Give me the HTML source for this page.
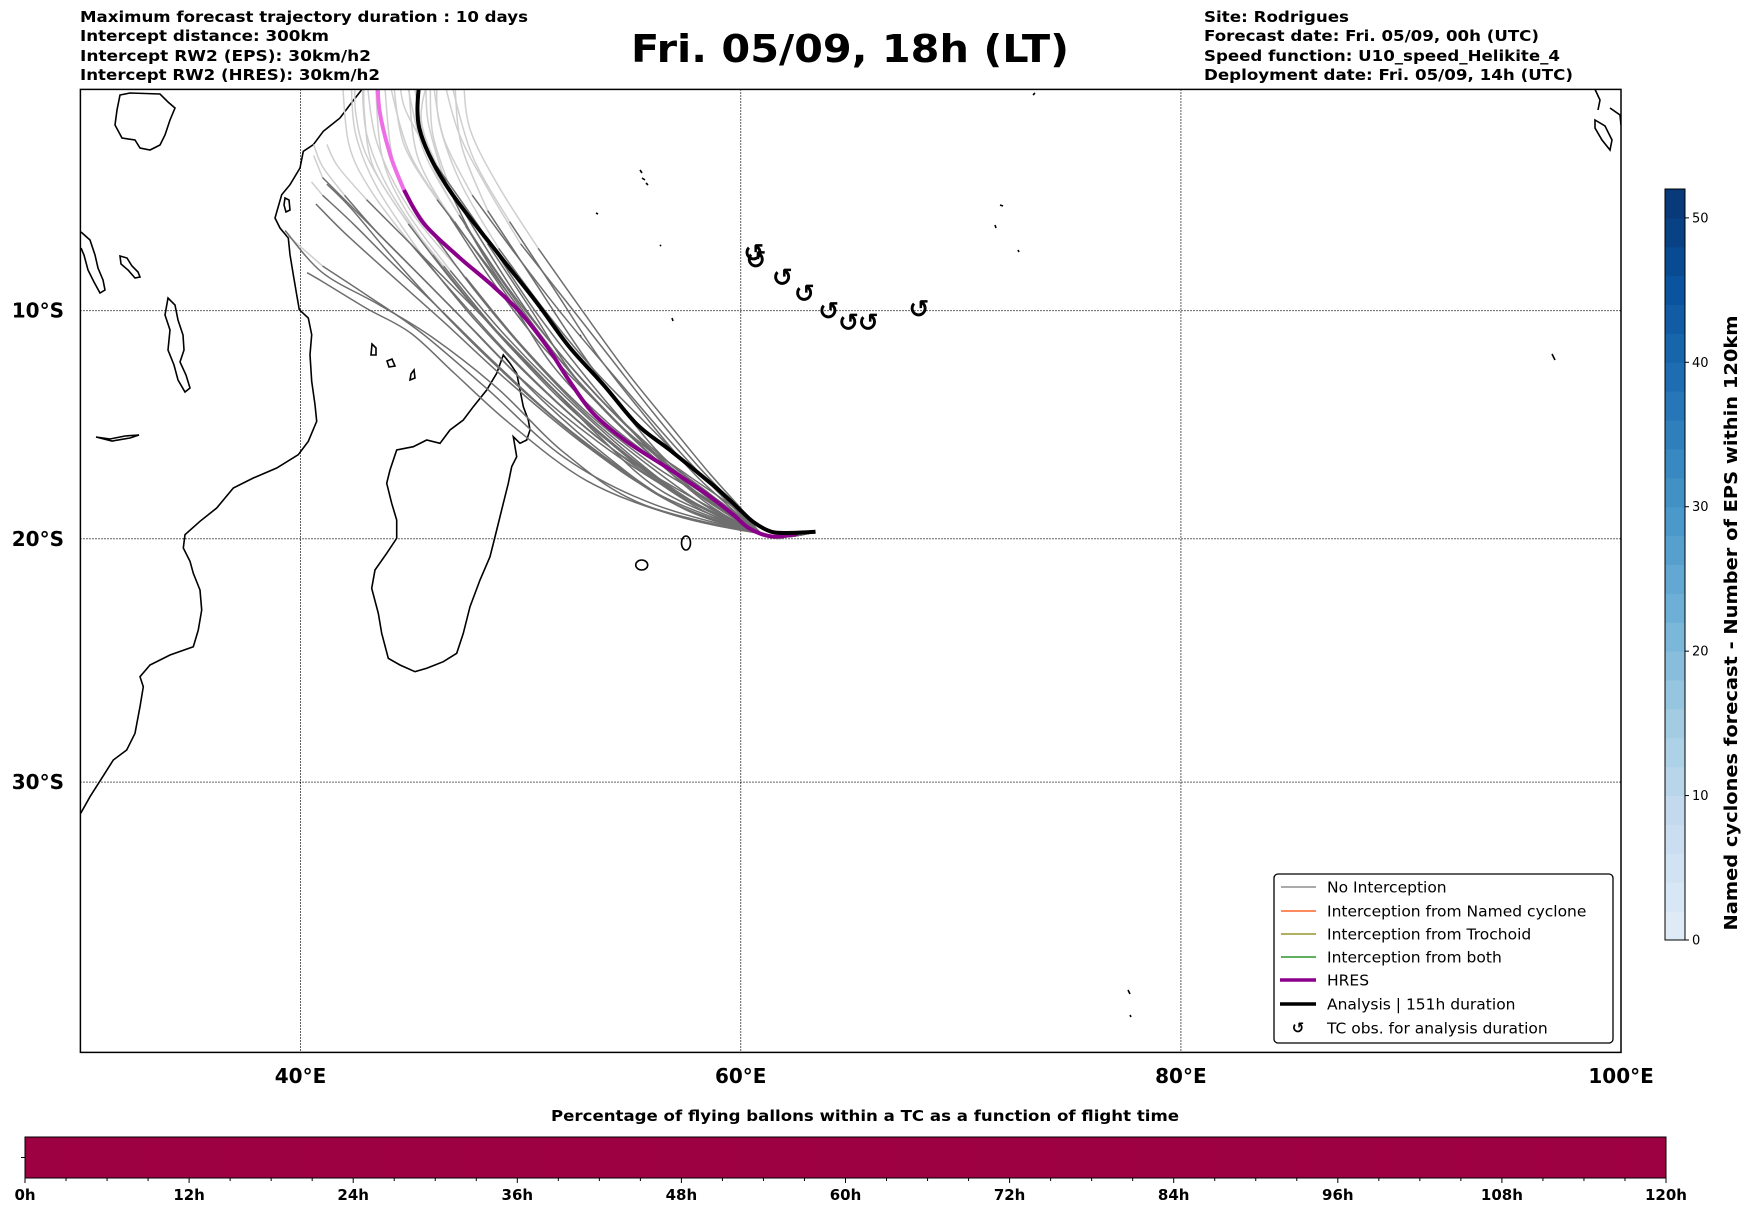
<!DOCTYPE html>
<html><head><meta charset="utf-8">
<style>
html,body{margin:0;padding:0;background:#fff;}
svg{display:block;font-family:"DejaVu Sans","Liberation Sans",sans-serif;}
</style></head>
<body>
<svg id="fig" width="1752" height="1213" viewBox="0 0 1752 1213" xmlns="http://www.w3.org/2000/svg">
  <g font-weight="bold" font-size="15">
    <text x="80" y="22" textLength="448" lengthAdjust="spacingAndGlyphs">Maximum forecast trajectory duration : 10 days</text>
    <text x="80" y="41" textLength="249" lengthAdjust="spacingAndGlyphs">Intercept distance: 300km</text>
    <text x="80" y="61" textLength="291" lengthAdjust="spacingAndGlyphs">Intercept RW2 (EPS):  30km/h2</text>
    <text x="80" y="80" textLength="300" lengthAdjust="spacingAndGlyphs">Intercept RW2 (HRES): 30km/h2</text>
  </g>
  <text x="850" y="62" text-anchor="middle" font-size="38" font-weight="bold" textLength="438" lengthAdjust="spacingAndGlyphs">Fri. 05/09, 18h (LT)</text>
  <g font-weight="bold" font-size="15">
    <text x="1204" y="22" textLength="145" lengthAdjust="spacingAndGlyphs">Site: Rodrigues</text>
    <text x="1204" y="41" textLength="335" lengthAdjust="spacingAndGlyphs">Forecast date: Fri. 05/09, 00h (UTC)</text>
    <text x="1204" y="61" textLength="356" lengthAdjust="spacingAndGlyphs">Speed function: U10_speed_Helikite_4</text>
    <text x="1204" y="80" textLength="369" lengthAdjust="spacingAndGlyphs">Deployment date: Fri. 05/09, 14h (UTC)</text>
  </g>
  <defs><clipPath id="mapclip"><rect x="80.4" y="89.4" width="1540.6" height="963"/></clipPath></defs>
  <g id="map">
    <g id="coast" fill="none" stroke="#000" stroke-width="1.6" clip-path="url(#mapclip)">
      <path d="M361.7,89.7 L350,104.7 340,118 323.3,131.3 313.3,144.7 303.3,151.3 300,168 290,184.7 281.7,194.7 275,218 280,228 288.3,238 290,254.7 293.3,274.7 296.7,294.7 299.3,309.7 308.3,318 311.7,334.7 310,354.7 311.7,381.3 315,404.7 316.7,421.3 308.3,441.3 298.3,454.7 276.7,468 253.3,478 233.3,488 216.7,508 200,521.3 185,534.7 183.3,548 190,561.3 193.3,573.3 200,590 201.7,610 198.3,630 193.3,646.7 170,655 150,665 140,676.7 143.3,686.7 140,706.7 135,733.3 126.7,750 113.3,760 101.7,778.3 90,796.7 80.7,813.3"/>
      <path d="M503.3,355 L510,363.3 516.7,373.3 520,390 523.3,406.7 528.3,420 530,430 526.7,440 520,443.3 513.3,436.7 515,446.7 516.7,456.7 511.7,466.7 508.3,483.3 503.3,503.3 496.7,530 490,556.7 480,580 470,606.7 463.3,633.3 456.7,653.3 443.3,661.7 426.7,668.3 415,671.7 400,665 388.3,658.3 381.7,633.3 378.3,613.3 371.7,588.3 375,570 386.7,553.3 396.7,538.3 396.7,520 391.7,503.3 386.7,483.3 390,470 396.7,450 413.3,446.7 426.7,440 440,443.3 450,430 463.3,420 473.3,406.7 486.7,390 496.7,373.3 Z"/>
      <ellipse cx="641.7" cy="565" rx="6" ry="5"/>
      <ellipse cx="686" cy="543" rx="4.5" ry="7"/>
      <path d="M168,298 L175,305 178,320 183,335 184,350 180,362 186,375 190,388 185,392 178,380 174,365 168,350 170,330 165,315 Z"/>
      <path d="M81,232 L90,240 95,255 98,268 103,280 105,290 100,293 94,282 88,270 84,255 81,248"/>
      <path d="M120,256 L127,258 132,266 138,272 140,277 135,278 128,270 121,264 Z"/>
      <path d="M96,437 L110,439 125,436 139,435 130,438 112,441 Z"/>
      <path d="M120,95 L130,93 160,94 168,102 175,108 170,120 165,135 160,145 150,150 140,148 135,140 122,138 115,125 117,110 Z"/>
      <path d="M285,198 L289,200 290,210 286,212 284,205 Z"/>
      <path d="M372,344 L376,348 376,355 371,355 Z M387,361 L392,359 395,366 389,367 Z M411,374 L414,370 415,378 410,380 Z"/>
      <path d="M1595,89.4 L1600,100 1598,110 M1610,108 L1620,115 1621,125 M1595,120 L1605,126 1612,140 1610,150 1602,140 1595,128 Z"/>
      <path d="M640,170 l2,3 M642,178 l3,2 M646,183 l2,2 M596,213 l2,1 M660,245 l1,1 M580,335 l1,2 M1000,205 l3,1 M995,225 l1,3 M1018,250 l1,2 M1033,95 l2,-2 M1128,990 l2,4 M1130,1015 l1,2 M1552,354 l3,6 M672,318 l1,3"/>
    </g>
    <g id="grid" stroke="#000" stroke-width="1" stroke-dasharray="1.2,1.8"></g>
    <g id="members" fill="none" clip-path="url(#mapclip)"></g>
    <g id="tcobs" font-size="25" font-weight="bold" text-anchor="middle"></g>
    <rect x="80.4" y="89.4" width="1540.6" height="963" fill="none" stroke="#000" stroke-width="1.5"/>
    <g id="ticks" font-size="20" font-weight="bold"></g>
  </g>
  <g>
    <rect x="1274" y="874" width="339" height="169" rx="4" fill="#fff" stroke="#000" stroke-width="1.3"/>
    <g font-size="15.5">
      <g><line x1="1281" y1="887" x2="1316" y2="887" stroke="#777" stroke-width="1.2"/><text x="1327" y="892.5">No Interception</text></g>
      <g><line x1="1281" y1="911" x2="1316" y2="911" stroke="#ff4500" stroke-width="1.2"/><text x="1327" y="916.5">Interception from Named cyclone</text></g>
      <g><line x1="1281" y1="934" x2="1316" y2="934" stroke="#808000" stroke-width="1.2"/><text x="1327" y="939.5">Interception from Trochoid</text></g>
      <g><line x1="1281" y1="957" x2="1316" y2="957" stroke="#008000" stroke-width="1.2"/><text x="1327" y="962.5">Interception from both</text></g>
      <g><line x1="1280" y1="980" x2="1316" y2="980" stroke="#8b008b" stroke-width="3.5"/><text x="1327" y="985.5">HRES</text></g>
      <g><line x1="1280" y1="1004" x2="1316" y2="1004" stroke="#000" stroke-width="3.5"/><text x="1327" y="1009.5">Analysis | 151h duration</text></g>
      <g><text x="1298" y="1033" text-anchor="middle" font-weight="bold" font-size="15">↺</text><text x="1327" y="1033.5">TC obs. for analysis duration</text></g>
    </g>
  </g>
  <g id="cbar"></g>
  <text transform="translate(1737,623) rotate(-90)" text-anchor="middle" font-size="18" font-weight="bold" textLength="615" lengthAdjust="spacingAndGlyphs">Named cyclones forecast - Number of EPS within 120km</text>
  <text x="865" y="1121" text-anchor="middle" font-size="15" font-weight="bold" textLength="628" lengthAdjust="spacingAndGlyphs">Percentage of flying ballons within a TC as a function of flight time</text>
  <g id="tbar"></g>
</svg>
<script>
// ---- data ----
const lonTicks = [40, 60, 80, 100];
const latTicks = [-10, -20, -30];
const startPts = [[63.4,-19.7],[62.2,-19.9],[61.0,-19.8]];
const analysisTrack = [[63.4,-19.7],[62.3,-19.75],[61.4,-19.7],[60.6,-19.3],[59.9,-18.7],[58.8,-17.74],[56.8,-16.18],[55.3,-15.06],[53.8,-13.34],[52.2,-11.6],[50.7,-9.6],[48.9,-7.34],[46.6,-4.32],[45.4,-1.78],[45.4,0.5]];
const hresTrack = [[62.6,-19.8],[61.4,-19.9],[60.4,-19.56],[59.6,-18.92],[58.3,-17.98],[56.8,-17.02],[54.8,-15.78],[53.3,-14.56],[52.2,-13.1],[51.2,-11.6],[50.0,-10.1],[48.7,-8.86],[47.2,-7.6],[45.6,-6.08],[44.7,-4.56],[44.1,-3.04],[43.6,-1.02],[43.5,0.5]];
const hresLightFrom = 14;
const m01 = [[59.5,-18.8],[57,-17.2],[54,-15],[51.5,-12.5],[49.5,-9.5],[47,-6],[45,-3],[44,0.5]];
const m02 = [[59.6,-18.6],[57.5,-17.2],[55,-15.5],[52.5,-13],[50.5,-10],[48.5,-7],[46.5,-4],[45.5,-1.5],[45.8,0.5]];
const m03 = [[58,-18],[56,-16.8],[53,-14.5],[50,-11.5],[47.5,-8.5],[45,-5.5],[43.5,-2.5],[43,0.5]];
const m04 = [[57,-17.8],[54,-16],[51,-13.5],[48,-10.5],[45.5,-7.5],[43.5,-4.5],[42.5,-2],[42.3,0.5]];
const m05 = [[58.5,-18],[56.5,-16.5],[54.5,-14.2],[52.5,-11.5],[50.5,-8.5],[48.5,-5.5],[47.3,-2.5],[47,0.5]];
const m06 = [[59,-18.2],[57.5,-16.8],[55.5,-14.5],[53.5,-12],[51.5,-9],[49.5,-6],[47.8,-3],[46.8,0.5]];
const m07 = [[60,-18.8],[58,-16.8],[56,-14.5],[54,-12],[52,-9.5],[50,-7],[48.5,-4.5],[47.2,-2],[46.5,0.5]];
const m08 = [[57,-18],[53.5,-15.8],[50,-13],[47,-10],[44.5,-7.5],[42.5,-5.5],[41,-4],[40.6,-3]];
const m09 = [[56.5,-18.2],[53,-16],[49.5,-13.2],[46.5,-10.5],[44,-8.3],[42,-6.5],[40.7,-5.2]];
const m10 = [[56,-18.5],[52,-16.5],[48.5,-13.5],[45.5,-11],[43,-9.3],[41,-8],[39.4,-6.6]];
const m11 = [[57,-19],[53,-17.5],[49.5,-15],[47,-12.8],[45,-11],[43,-9.9],[41,-8.7],[40.3,-8.3]];
const m12 = [[55.5,-18.5],[52,-16.3],[49,-13.5],[46,-11.2],[43.5,-9.7],[41,-8.3],[39.3,-6.4]];
const m13 = [[58,-18.5],[55,-16.5],[52,-14],[49,-11],[46.5,-8],[44.5,-5.5],[43,-3],[42.5,-1],[42.5,0.5]];
const m14 = [[57.5,-18.3],[54.5,-16.2],[51.5,-13.5],[48.5,-10.5],[46,-7.5],[44,-4.5],[43,-2],[42.8,0.5]];
const m15 = [[58.5,-18.5],[55.5,-16],[52.5,-13],[50,-10],[48,-7],[46.5,-4],[45.8,-1.5],[45.7,0.5]];
const m16 = [[59,-18.6],[56,-16.2],[53,-13.3],[50.5,-10.3],[48.5,-7.3],[46.8,-4.5],[46,-2],[45.9,0.5]];
const m17 = [[57,-18.5],[54,-16.5],[51,-14],[48,-11],[45.5,-8.5],[43.5,-6.5],[42,-4.8],[41,-3.5],[40.6,-2.5]];
const m18 = [[56.5,-18],[53.5,-15.5],[50.5,-12.5],[47.5,-9.5],[45,-7],[43,-5],[41.7,-3.5],[41.2,-2.5]];
const m19 = [[58,-18],[55.5,-15.8],[53,-13],[50.5,-9.8],[48.3,-6.5],[46.2,-3.5],[44.8,-1],[44.5,0.5]];
const m20 = [[59.5,-18.5],[57,-16],[54.5,-13.2],[52,-10.3],[49.8,-7.5],[47.8,-4.8],[46.5,-2.2],[46,0.5]];
const m21 = [[58.2,-18.2],[55.8,-16.3],[53.2,-13.8],[50.8,-11],[48.5,-8],[46.2,-5],[44.7,-2.5],[44.2,0.5]];
const m22 = [[57.8,-18.4],[55,-16.4],[52,-13.8],[49.2,-11],[46.8,-8.2],[44.8,-5.5],[43.7,-3],[43.4,0.5]];
const m23 = [[58.8,-18.4],[56.2,-16.6],[53.6,-14.2],[51,-11.6],[48.8,-8.8],[46.8,-5.8],[45.3,-3],[44.9,0.5]];
const m24 = [[57.2,-18.6],[54.2,-16.8],[51.2,-14.5],[48.4,-12],[46,-9.6],[44,-7.4],[42.3,-5.4],[41.2,-4.3]];
const m25 = [[59.2,-18.5],[56.8,-16.9],[54.2,-14.8],[51.8,-12.2],[49.6,-9.3],[47.5,-6.2],[45.9,-3.2],[45.1,0.5]];
const m26 = [[58.6,-18.7],[55.9,-16.9],[53.1,-14.7],[50.4,-12],[48,-9.2],[45.9,-6.4],[44.3,-3.6],[43.8,0.5]];
const m27 = [[58.3,-18.8],[55.4,-17],[52.5,-14.8],[49.7,-12.2],[47.2,-9.5],[45,-7],[43.2,-4.6],[42.2,-2.5],[41.9,0.5]];
const m28 = [[59.8,-18.6],[57.8,-17],[55.6,-14.9],[53.3,-12.6],[51.1,-10],[49,-7.2],[47.3,-4.3],[46.3,-1.5],[46.2,0.5]];
const m29 = [[57.6,-18.8],[54.6,-17],[51.6,-14.8],[48.8,-12.3],[46.3,-9.9],[44.2,-7.9],[42.4,-6.1],[41,-4.8],[40.5,-4.2]];
const m30 = [[58.9,-18.3],[56.6,-16.6],[54,-14.3],[51.6,-11.7],[49.3,-8.8],[47.2,-5.7],[45.6,-2.8],[44.8,0.5]];
const m31 = [[58.1,-18.6],[55.2,-16.7],[52.2,-14.3],[49.5,-11.6],[47,-8.8],[44.9,-6.1],[43.3,-3.5],[42.9,-1],[42.9,0.5]];
const m32 = [[60.2,-18.9],[58.6,-17.2],[56.8,-15.1],[54.8,-12.7],[52.8,-10],[50.8,-7.2],[49,-4.4],[47.7,-1.8],[47.4,0.5]];
const members = [m01,m02,m03,m04,m05,m06,m07,m08,m09,m10,m11,m12,m13,m14,m15,m16,m17,m18,m19,m20,m21,m22,m23,m24,m25,m26,m27,m28,m29,m30,m31,m32];
const lightFrom = [5,5,4,4,5,5,5,6,6,5,8,8,4,4,5,5,6,5,5,5,5,4,5,7,5,5,5,5,7,5,5,5];
const tcLon = [60.6, 60.7, 61.9, 62.9, 64.0, 64.9, 65.8, 68.1];
const tcLat = [-7.4, -7.7, -8.5, -9.2, -10.0, -10.5, -10.5, -9.9];
const cbarMax = 52;
const cbarTicks = [0,10,20,30,40,50];
const timeTicks = ['0h','12h','24h','36h','48h','60h','72h','84h','96h','108h','120h'];
const timeMax = 120;
const timePct = [100,100,100,100,100,100,100,100,100,100,100,100,100,100,100,100,100,100,100,100,100,100,100,100,100,100,100,100,100,100,100,100,100,100,100,100,100,100,100,100];

// ---- projection ----
const NS = 'http://www.w3.org/2000/svg';
const L0 = 80.4, T0 = 89.4, PX = 22.01, K = 1261;
function X(lon){ return L0 + (lon - 30) * PX; }
function merc(d){ const r = d*Math.PI/180; return Math.log(Math.tan(Math.PI/4 + r/2)); }
function Y(lat){ return T0 + K * merc(-lat); }
function el(tag, attrs, parent){ const e = document.createElementNS(NS, tag); for (const k in attrs) e.setAttribute(k, attrs[k]); parent.appendChild(e); return e; }
function smooth(pts){
  const p = pts.map(q => [X(q[0]), Y(q[1])]);
  let d = 'M' + p[0][0].toFixed(1) + ',' + p[0][1].toFixed(1);
  for (let i = 0; i < p.length - 1; i++){
    const a = p[Math.max(0,i-1)], b = p[i], c = p[i+1], e = p[Math.min(p.length-1,i+2)];
    const c1 = [b[0]+(c[0]-a[0])/6, b[1]+(c[1]-a[1])/6];
    const c2 = [c[0]-(e[0]-b[0])/6, c[1]-(e[1]-b[1])/6];
    d += ' C' + c1[0].toFixed(1)+','+c1[1].toFixed(1)+' '+c2[0].toFixed(1)+','+c2[1].toFixed(1)+' '+c[0].toFixed(1)+','+c[1].toFixed(1);
  }
  return d;
}

// grid
const grid = document.getElementById('grid');
lonTicks.forEach(lon => { if (lon < 100) {
  const g = el('line', {x1: X(lon), x2: X(lon), y1: T0, y2: Y(-40)}, grid);
  
  
}});
latTicks.forEach(lat => {
  const g = el('line', {x1: L0, x2: X(100), y1: Y(lat), y2: Y(lat)}, grid);
  
  
});

// tick labels
const ticks = document.getElementById('ticks');
lonTicks.forEach(lon => {
  const t = el('text', {x: X(lon), y: 1083, 'text-anchor': 'middle'}, ticks);
  t.textContent = lon + '°E';
  
  
});
latTicks.forEach(lat => {
  const t = el('text', {x: 64, y: Y(lat) + 7, 'text-anchor': 'end'}, ticks);
  t.textContent = (-lat) + '°S';
  
  
});

// ensemble members: light (late) parts first, then dark parts on top
const mg = document.getElementById('members');
const lightG = el('g', {}, mg);


const darkG = el('g', {}, mg);


members.forEach((m, i) => {
  const pts = startPts.concat(m);
  const k = startPts.length + lightFrom[i];
  const dark = pts.slice(0, Math.min(k + 1, pts.length));
  const light = pts.slice(Math.min(k, pts.length - 1));
  if (light.length > 1) {
    const pl = el('path', {d: smooth(light), stroke: '#cfcfcf', 'stroke-width': 1.5}, lightG);
    
    
  }
  const pd = el('path', {d: smooth(dark), stroke: '#6e6e6e', 'stroke-width': 1.5}, darkG);
  
  
});
// HRES
const hp1 = el('path', {d: smooth(hresTrack.slice(0, hresLightFrom + 1)), stroke: '#8b008b', 'stroke-width': 4}, mg);


const hp2 = el('path', {d: smooth(hresTrack.slice(hresLightFrom)), stroke: '#ee6ee8', 'stroke-width': 4}, mg);


// analysis
const ap = el('path', {d: smooth(analysisTrack), stroke: '#000', 'stroke-width': 4, 'stroke-linejoin': 'round'}, mg);



// TC obs
const tg = document.getElementById('tcobs');
tcLon.forEach((lon, i) => {
  const t = el('text', {x: X(lon), y: Y(tcLat[i]) + 9}, tg);
  t.textContent = '↺';
  
  
});

// right colorbar
const cb = document.getElementById('cbar');
const cbX = 1665, cbW = 20, cbTop = 189, cbBot = 940;
function CY(v){ return cbBot - (cbBot - cbTop) * v / cbarMax; }
function blues(t){
  const s = [[222,235,247],[198,219,239],[158,202,225],[107,174,214],[66,146,198],[33,113,181],[8,81,156],[8,48,107]];
  const f = t * (s.length - 1), i = Math.min(Math.floor(f), s.length - 2), r = f - i;
  return 'rgb(' + [0,1,2].map(j => Math.round(s[i][j] + (s[i+1][j]-s[i][j])*r)).join(',') + ')';
}
for (let v = 0; v < cbarMax; v += 2) {
  const r = el('rect', {x: cbX, y: CY(v+2), width: cbW, height: CY(v) - CY(v+2) + 0.5, fill: blues(v / cbarMax)}, cb);
  
  
}
const cbf = el('rect', {x: cbX, y: cbTop, width: cbW, height: cbBot - cbTop, fill: 'none', stroke: '#000', 'stroke-width': 1}, cb);


cbarTicks.forEach(v => {
  const l = el('line', {x1: cbX + cbW, x2: cbX + cbW + 4, y1: CY(v), y2: CY(v), stroke: '#000'}, cb);
  
  
  const t = el('text', {x: cbX + cbW + 7, y: CY(v) + 4.5, 'font-size': 13}, cb);
  t.textContent = v;
  
  
});

// bottom time bar
const tb = document.getElementById('tbar');
const tbL = 25, tbR = 1666, tbT = 1137, tbB = 1178;
function TX(h){ return tbL + (tbR - tbL) * h / timeMax; }
const step = timeMax / timePct.length;
timePct.forEach((p, i) => {
  const r = el('rect', {x: TX(i*step), y: tbT, width: TX((i+1)*step) - TX(i*step) + 0.5, height: tbB - tbT, fill: p >= 50 ? '#9e0142' : '#5e4fa2'}, tb);
  
  
});
const tbf = el('rect', {x: tbL, y: tbT, width: tbR - tbL, height: tbB - tbT, fill: 'none', stroke: '#000', 'stroke-width': 1}, tb);


const yt = el('line', {x1: tbL - 4, x2: tbL, y1: (tbT+tbB)/2, y2: (tbT+tbB)/2, stroke: '#000'}, tb);


for (let h = 0; h <= timeMax; h += 3) {
  const major = h % 12 === 0;
  const l = el('line', {x1: TX(h), x2: TX(h), y1: tbB, y2: tbB + (major ? 5 : 3), stroke: '#000'}, tb);
  
  
}
timeTicks.forEach((lab, i) => {
  const t = el('text', {x: TX(i*12), y: 1200, 'text-anchor': 'middle', 'font-size': 15, 'font-weight': 'bold'}, tb);
  t.textContent = lab;
  
  
});
</script>
</body></html>
